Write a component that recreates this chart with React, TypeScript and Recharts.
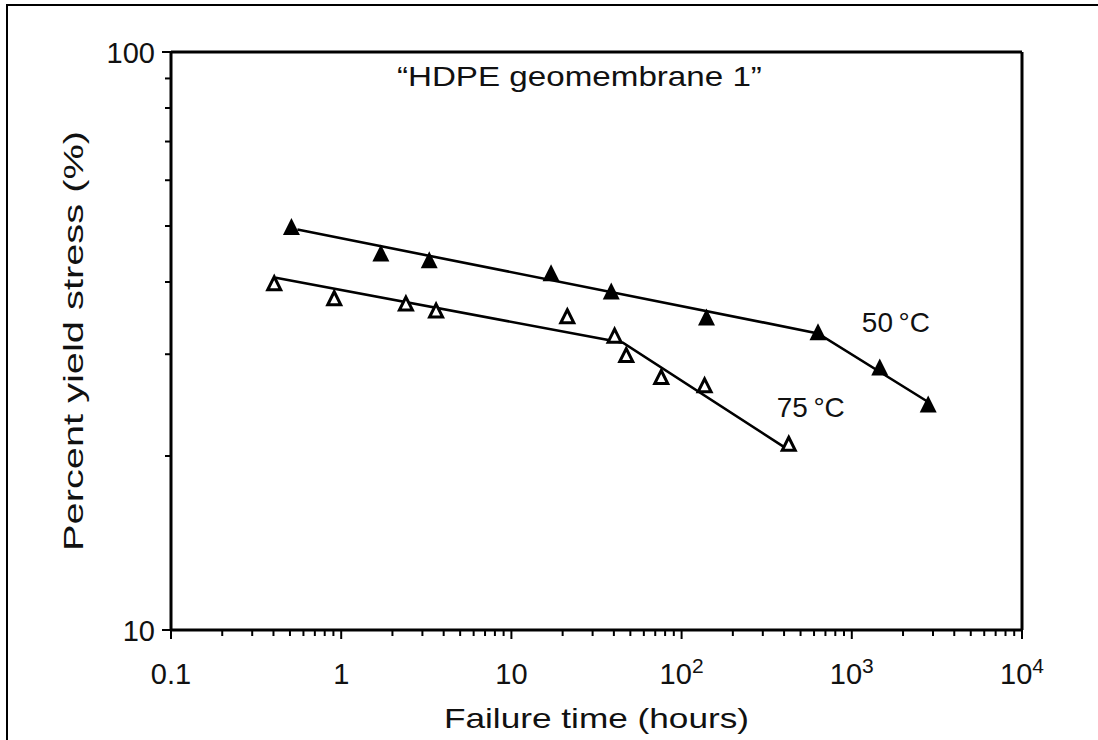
import React from "react";
import { ComposedChart, Scatter, XAxis, YAxis, ReferenceLine, ReferenceDot } from "recharts";

// failure time (hours) and percent yield stress (%)
const time50 = [0.51, 1.71, 3.29, 17.1, 38.6, 140, 633, 1460, 2810];
const stress50 = [49.9, 44.9, 43.7, 41.5, 38.6, 34.8, 32.8, 28.5, 24.6];

const time75 = [0.404, 0.91, 2.4, 3.61, 21.3, 40.4, 47.3, 75.9, 136.5, 426];
const stress75 = [39.8, 37.5, 36.7, 35.7, 34.9, 32.3, 29.9, 27.4, 26.5, 21.0];

// bilinear fit lines (start, knee, end)
const fit50Time = [0.553, 633, 2811];
const fit50Stress = [49.3, 32.6, 24.8];
const fit75Time = [0.413, 45.2, 403];
const fit75Stress = [40.7, 31.4, 20.7];

// axes
const xDecades = [0.1, 1, 10, 100, 1000, 10000];
const xDecadeLabels = [["0.1", ""], ["1", ""], ["10", ""], ["10", "2"], ["10", "3"], ["10", "4"]];
const minorSteps = [2, 3, 4, 5, 6, 7, 8, 9];
const yMajor = [10, 100];
const yTicks = [10, 20, 30, 40, 50, 60, 70, 80, 90, 100];

const xTicks = xDecades.flatMap((d, i) =>
  i < xDecades.length - 1 ? [d, ...minorSteps.map((m) => +(d * m).toPrecision(3))] : [d]
);

const toPts = (xs: number[], ys: number[]) => xs.map((x, i) => ({ x, y: ys[i] }));
const pts50 = toPts(time50, stress50);
const pts75 = toPts(time75, stress75);
const fit50 = toPts(fit50Time, fit50Stress);
const fit75 = toPts(fit75Time, fit75Stress);

const FONT = "'Liberation Sans', Arial, Helvetica, sans-serif";
const INK = "#111";

const FilledTri = (props: any) => {
  const { cx, cy } = props;
  const s = 8.5;
  return <path d={`M${cx},${cy - s} L${cx + s},${cy + s} L${cx - s},${cy + s} Z`} fill="#000" />;
};

const OpenTri = (props: any) => {
  const { cx, cy } = props;
  const s = 6.5;
  return (
    <path
      d={`M${cx},${cy - s} L${cx + s},${cy + s} L${cx - s},${cy + s} Z`}
      fill="#fff"
      stroke="#000"
      strokeWidth={3}
    />
  );
};

const NoShape = () => <g />;

// the original lettering is a little wider than Arial, so stretch to the measured length
const WideText = ({ x, y, text, size, len, rotate }: any) => (
  <text
    x={x}
    y={y}
    fontSize={size}
    fontFamily={FONT}
    fill={INK}
    textAnchor="middle"
    textLength={len}
    lengthAdjust="spacingAndGlyphs"
    transform={rotate ? `rotate(${rotate}, ${x}, ${y})` : undefined}
  >
    {text}
  </text>
);

// labels placed at the centre of a zero-size ReferenceDot viewBox
const DotLabel = (props: any) => {
  const { viewBox, text, size, len, dy } = props;
  const cx = viewBox.x + viewBox.width / 2;
  const cy = viewBox.y + viewBox.height / 2;
  return <WideText x={cx} y={cy + dy} text={text} size={size} len={len} />;
};

const XTitle = (props: any) => {
  const { viewBox } = props;
  return <WideText x={viewBox.x + viewBox.width / 2} y={728} text="Failure time (hours)" size={28} len={305} />;
};

const YTitle = (props: any) => {
  const { viewBox } = props;
  return <WideText x={83} y={viewBox.y + viewBox.height / 2} text="Percent yield stress (%)" size={28} len={420} rotate={-90} />;
};

const XTick = (props: any) => {
  const { x, y, payload } = props;
  const idx = xDecades.indexOf(payload.value);
  const major = idx >= 0;
  return (
    <g>
      <line x1={x} x2={x} y1={y} y2={y + (major ? 9 : 6)} stroke="#000" strokeWidth={2} />
      {major && (
        <text x={x} y={y + 54} textAnchor="middle" fontSize={29} fontFamily={FONT} fill={INK}>
          <tspan>{xDecadeLabels[idx][0]}</tspan>
          {xDecadeLabels[idx][1] && (
            <tspan dy={-11} fontSize={21}>
              {xDecadeLabels[idx][1]}
            </tspan>
          )}
        </text>
      )}
    </g>
  );
};

const YTick = (props: any) => {
  const { x, y, payload } = props;
  const major = yMajor.includes(payload.value);
  return (
    <g>
      <line x1={x} x2={x - (major ? 9 : 6)} y1={y} y2={y} stroke="#000" strokeWidth={2} />
      {major && (
        <text x={x - 16} y={y + 11} textAnchor="end" fontSize={29} fontFamily={FONT} fill={INK}>
          {payload.value}
        </text>
      )}
    </g>
  );
};

export default function App() {
  return (
    <div style={{ position: "absolute", left: 0, top: 0, width: 1098, height: 740, background: "#fff" }}>
      {/* outer frame, top and left edges only */}
      <div
        style={{
          position: "absolute",
          left: 6,
          top: 4,
          right: 0,
          bottom: 0,
          borderTop: "2px solid #000",
          borderLeft: "2px solid #000",
        }}
      />
      <div style={{ position: "absolute", left: 0, top: 0 }}>
        <ComposedChart width={1098} height={740} margin={{ top: 52, right: 76, bottom: 0, left: 0 }}>
          <XAxis
            type="number"
            dataKey="x"
            scale="log"
            domain={[0.1, 10000]}
            allowDataOverflow
            ticks={xTicks}
            interval={0}
            tickSize={0}
            tickMargin={0}
            tickLine={false}
            tick={<XTick />}
            height={110}
            axisLine={{ stroke: "#000", strokeWidth: 3 }}
            label={<XTitle />}
          />
          <YAxis
            type="number"
            dataKey="y"
            scale="log"
            domain={[10, 100]}
            allowDataOverflow
            ticks={yTicks}
            interval={0}
            tickSize={0}
            tickMargin={0}
            tickLine={false}
            tick={<YTick />}
            width={171}
            axisLine={{ stroke: "#000", strokeWidth: 3 }}
            label={<YTitle />}
          />
          <ReferenceLine y={100} stroke="#000" strokeWidth={3} />
          <ReferenceLine x={10000} stroke="#000" strokeWidth={3} />

          <Scatter data={fit50} line={{ stroke: "#000", strokeWidth: 2.6 }} shape={<NoShape />} isAnimationActive={false} />
          <Scatter data={fit75} line={{ stroke: "#000", strokeWidth: 2.6 }} shape={<NoShape />} isAnimationActive={false} />
          <Scatter data={pts75} shape={<OpenTri />} isAnimationActive={false} />
          <Scatter data={pts50} shape={<FilledTri />} isAnimationActive={false} />

          <ReferenceDot x={25.1} y={90.9} r={1} fill="none" stroke="none"
            label={<DotLabel text={"\u201CHDPE geomembrane 1\u201D"} size={28} len={365} dy={10} />} />
          <ReferenceDot x={1815} y={34.1} r={1} fill="none" stroke="none"
            label={<DotLabel text={"50\u2009°C"} size={28} len={68} dy={10} />} />
          <ReferenceDot x={574} y={24.3} r={1} fill="none" stroke="none"
            label={<DotLabel text={"75\u2009°C"} size={28} len={68} dy={10} />} />
        </ComposedChart>
      </div>
    </div>
  );
}
